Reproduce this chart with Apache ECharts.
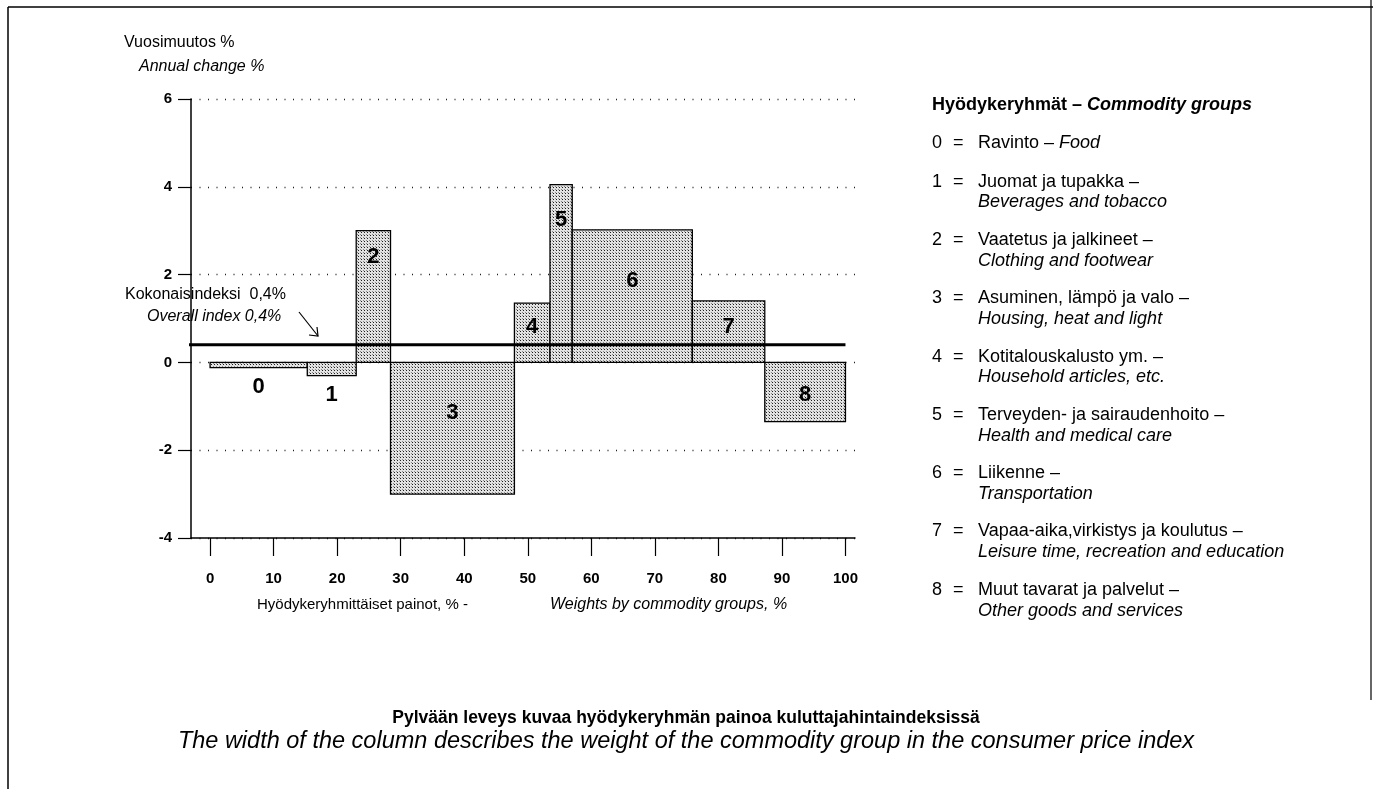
<!DOCTYPE html>
<html><head><meta charset="utf-8">
<script src="https://cdn.jsdelivr.net/npm/echarts@6/dist/echarts.min.js"></script>
<style>html,body{margin:0;padding:0;background:#fff}#c{width:1373px;height:789px}</style>
</head><body><div id="c"></div>
<script>
// ---- data ----
const groupIds = ['0', '1', '2', '3', '4', '5', '6', '7', '8'];
const weights = [15.3, 7.7, 5.4, 19.5, 5.6, 3.5, 18.9, 11.4, 12.7];      // % weight = column width
const changes = [-0.12, -0.3, 3.0, -3.0, 1.35, 4.05, 3.02, 1.4, -1.35];  // annual change %
const labelAt = [-0.55, -0.75, 2.4, -1.15, 0.8, 3.25, 1.85, 0.8, -0.75]; // label height (value units)
const overallIndex = 0.4;
const xTicks = [0, 10, 20, 30, 40, 50, 60, 70, 80, 90, 100];
const yTicks = [-4, -2, 0, 2, 4, 6];
const fiNames = ['Ravinto', 'Juomat ja tupakka', 'Vaatetus ja jalkineet', 'Asuminen, lämpö ja valo',
  'Kotitalouskalusto ym.', 'Terveyden- ja sairaudenhoito', 'Liikenne', 'Vapaa-aika,virkistys ja koulutus',
  'Muut tavarat ja palvelut'];
const enNames = ['Food', 'Beverages and tobacco', 'Clothing and footwear', 'Housing, heat and light',
  'Household articles, etc.', 'Health and medical care', 'Transportation',
  'Leisure time, recreation and education', 'Other goods and services'];

const FONT = "'Liberation Sans', Arial, Helvetica, sans-serif";

// stipple pattern
const pc = document.createElement('canvas');
pc.width = 3; pc.height = 3;
const g = pc.getContext('2d');
g.fillStyle = '#e2e2e2'; g.fillRect(0, 0, 3, 3);
g.fillStyle = '#1e1e1e'; g.fillRect(1, 1, 1, 1);
g.fillStyle = '#8a8a8a'; g.fillRect(0, 0, 1, 1);
const stipple = { image: pc, repeat: 'repeat' };

// build bar items
let acc = 0;
const barData = weights.map((w, i) => {
  const item = [acc, acc + w, changes[i], labelAt[i], groupIds[i]];
  acc += w;
  return item;
});

const xMin = -3, xMax = 101.5;

const chart = echarts.init(document.getElementById('c'), null, { renderer: 'canvas' });

function txt(x, y, text, font, extra) {
  return Object.assign({ type: 'text', x: x, y: y, z: 20,
    style: { text: text, font: font, fill: '#000', verticalAlign: 'middle' } }, extra || {});
}

const graphics = [];
// frame
graphics.push({ type: 'line', shape: { x1: 8, y1: 7, x2: 1373, y2: 7 }, style: { stroke: '#000', lineWidth: 1.5 } });
graphics.push({ type: 'line', shape: { x1: 8, y1: 7, x2: 8, y2: 789 }, style: { stroke: '#000', lineWidth: 1.5 } });
graphics.push({ type: 'line', shape: { x1: 1371, y1: 0, x2: 1371, y2: 700 }, style: { stroke: '#000', lineWidth: 1.2 } });
// axis title
graphics.push(txt(124, 43, 'Vuosimuutos %', '16px ' + FONT));
graphics.push(txt(139, 67, 'Annual change %', 'italic 16px ' + FONT));
// overall index note
graphics.push(txt(125, 295, 'Kokonaisindeksi  0,4%', '16px ' + FONT));
graphics.push(txt(147, 317, 'Overall index 0,4%', 'italic 16px ' + FONT));
graphics.push({ type: 'line', shape: { x1: 299, y1: 312, x2: 318, y2: 336 }, style: { stroke: '#000', lineWidth: 1.2 } });
graphics.push({ type: 'polyline', shape: { points: [[309, 335], [318, 336], [317, 327]] }, style: { stroke: '#000', lineWidth: 1.2, fill: null } });
// x axis names
graphics.push(txt(257, 605, 'Hyödykeryhmittäiset painot, % -', '15px ' + FONT));
graphics.push(txt(550, 605, 'Weights by commodity groups, %', 'italic 16px ' + FONT));
// legend
graphics.push({ type: 'text', x: 932, y: 105, z: 20, style: {
  text: '{a|Hyödykeryhmät – }{b|Commodity groups}', verticalAlign: 'middle',
  rich: { a: { font: 'bold 18px ' + FONT, fill: '#000' }, b: { font: 'italic bold 18px ' + FONT, fill: '#000' } } } });
groupIds.forEach((id, i) => {
  const y = i === 0 ? 143.3 : 181.7 + 58.3 * (i - 1);
  graphics.push(txt(932, y, id, '18px ' + FONT));
  graphics.push(txt(953, y, '=', '18px ' + FONT));
  if (i === 0) {
    graphics.push({ type: 'text', x: 978, y: y, z: 20, style: {
      text: '{a|' + fiNames[i] + ' – }{b|' + enNames[i] + '}', verticalAlign: 'middle',
      rich: { a: { font: '18px ' + FONT, fill: '#000' }, b: { font: 'italic 18px ' + FONT, fill: '#000' } } } });
  } else {
    graphics.push(txt(978, y, fiNames[i] + ' –', '18px ' + FONT));
    graphics.push(txt(978, y + 20.7, enNames[i], 'italic 18px ' + FONT));
  }
});
// caption
graphics.push({ type: 'text', x: 686, y: 718, z: 20, style: { text: 'Pylvään leveys kuvaa hyödykeryhmän painoa kuluttajahintaindeksissä', font: 'bold 17.5px ' + FONT, fill: '#000', align: 'center', verticalAlign: 'middle' } });
graphics.push({ type: 'text', x: 686, y: 741, z: 20, style: { text: 'The width of the column describes the weight of the commodity group in the consumer price index', font: 'italic 23.5px ' + FONT, fill: '#000', align: 'center', verticalAlign: 'middle' } });

const option = {
  animation: false,
  backgroundColor: '#fff',
  grid: { left: 191, right: 518, top: 99, bottom: 251, containLabel: false },
  xAxis: {
    type: 'value', min: xMin, max: xMax,
    axisLine: { show: true, onZero: false, lineStyle: { color: '#000', width: 1.5 } },
    axisTick: { show: true, length: 18, customValues: xTicks, lineStyle: { color: '#000', width: 1.2 } },
    axisLabel: { show: true, customValues: xTicks, margin: 33, color: '#000', fontFamily: FONT, fontWeight: 'bold', fontSize: 15 },
    splitLine: { show: false }
  },
  yAxis: {
    type: 'value', min: -4, max: 6, interval: 2,
    axisLine: { show: true, onZero: false, lineStyle: { color: '#000', width: 1.5 } },
    axisTick: { show: true, length: 13, lineStyle: { color: '#000', width: 1.2 } },
    axisLabel: { margin: 19, color: '#000', fontFamily: FONT, fontWeight: 'bold', fontSize: 15 },
    splitLine: { show: true, lineStyle: { color: '#222', width: 1.3, type: [1, 7.5] } }
  },
  series: [
    {
      type: 'custom',
      data: barData,
      encode: { x: [0, 1], y: 2 },
      z: 5,
      renderItem: function (params, api) {
        const s = api.value(0), e = api.value(1), v = api.value(2), la = api.value(3);
        const p0 = api.coord([s, 0]);
        const p1 = api.coord([e, v]);
        const lp = api.coord([(s + e) / 2, la]);
        return {
          type: 'group',
          children: [
            { type: 'rect',
              shape: { x: p0[0], y: Math.min(p0[1], p1[1]), width: p1[0] - p0[0], height: Math.abs(p1[1] - p0[1]) },
              style: { fill: stipple, stroke: '#000', lineWidth: 1.3 } },
            { type: 'text', z2: 10,
              style: { text: String(api.value(4)), x: lp[0], y: lp[1], align: 'center', verticalAlign: 'middle',
                font: 'bold 22px ' + FONT, fill: '#000' } }
          ]
        };
      }
    },
    {
      type: 'line',
      data: [[xMin - 0.7, overallIndex], [100, overallIndex]],
      symbol: 'none', clip: false, z: 10,
      lineStyle: { color: '#000', width: 3 }
    }
  ],
  graphic: graphics
};
chart.setOption(option);
</script>
</body></html>
